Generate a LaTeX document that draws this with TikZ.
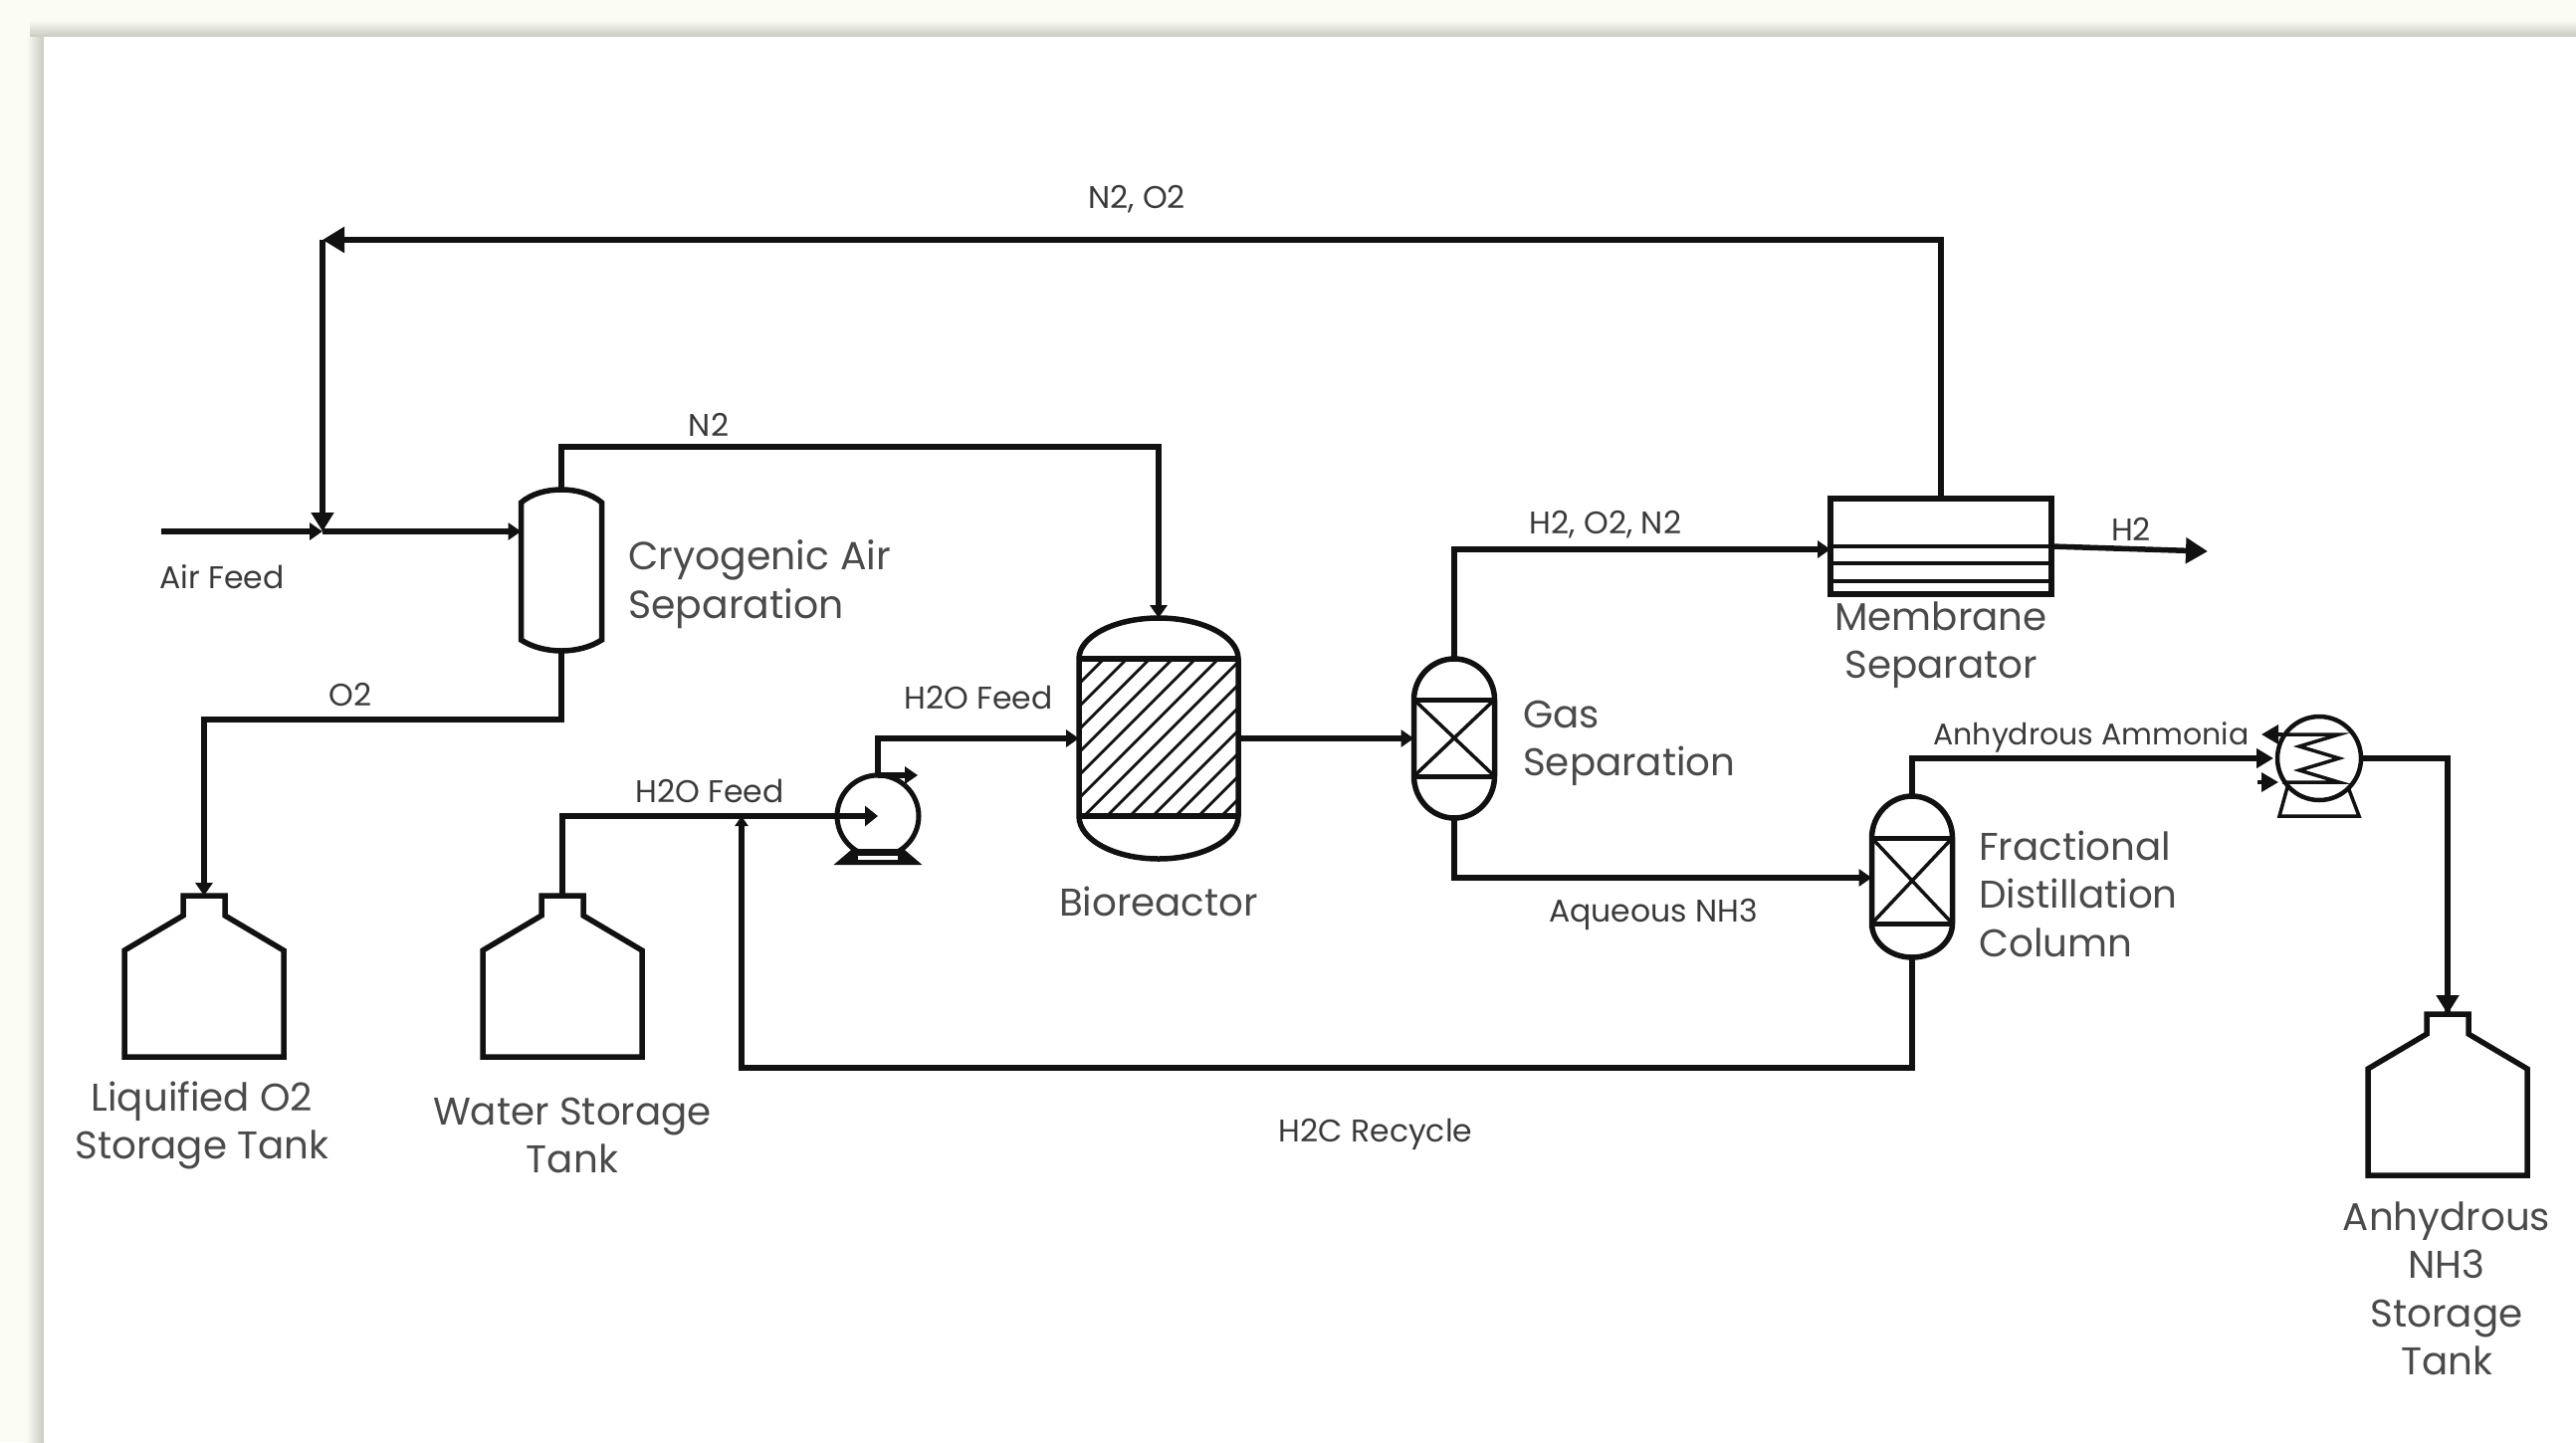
\documentclass[tikz,border=0pt]{standalone}
\usepackage{fontspec}
\setmainfont{Poppins}
\usetikzlibrary{arrows.meta}
\definecolor{pagebg}{HTML}{FBFCF4}
\definecolor{edgeshadow}{HTML}{C9CBC3}
\definecolor{inkline}{HTML}{111111}
\definecolor{biglabel}{HTML}{4A4A4A}
\definecolor{smalllabel}{HTML}{3A3A3A}
\tikzset{
  x=1pt, y=-1pt,
  pipe/.style={draw=inkline, line width=5.5pt, line join=miter},
  shell/.style={draw=inkline, line width=5.5pt, line join=miter},
  inner line/.style={draw=inkline, line width=3.5pt},
  tipS/.style={-{Triangle[length=13pt,width=17pt]}},
  tipE/.style={-{Triangle[length=17pt,width=19pt]}},
  tipT/.style={-{Triangle[length=10pt,width=13pt]}},
  tipM/.style={-{Triangle[length=19pt,width=22pt]}},
  tipL/.style={-{Triangle[length=22pt,width=25pt]}},
  equip/.style={inner sep=0pt, outer sep=0pt, minimum width=#1},
  biglab/.style={font=\fontsize{38.8}{48.5}\selectfont, text=biglabel, inner sep=0pt, align=center},
  leftlab/.style={biglab, align=left, anchor=west},
  smalllab/.style={font=\fontsize{31.5}{36}\selectfont, text=smalllabel, inner sep=0pt},
}
% dome from (-a,base) to (a,base) through (0,apex)
\newcommand{\domepath}[3]{(-#1,#2) .. controls (-#1,{#2+0.55*(#3-#2)}) and ({-0.55*#1},#3) .. (0,#3) .. controls ({0.55*#1},#3) and (#1,{#2+0.55*(#3-#2)}) .. (#1,#2)}
% name, cx, top
\newcommand{\tankat}[3]{%
  \begin{scope}[shift={(#2,#3)}]
    \node[equip=160pt, minimum height=162pt] (#1) at (0,81) {};
    \draw[shell] (-21,0) -- (21,0) -- (21,20) -- (80,55) -- (80,162) -- (-80,162) -- (-80,55) -- (-21,20) -- cycle;
  \end{scope}}
% name, cx, top, dome base top, band low, bottom
\newcommand{\packedcol}[6]{%
  \begin{scope}[shift={(#2,0)}]
    \node[equip=81pt, minimum height={#6-#3}] (#1) at (0,{(#3+#6)/2}) {};
    \draw[shell] \domepath{40.5}{#4}{#3} -- (40.5,#5) .. controls (40.5,{#5+0.55*(#6-#5)}) and (22.3,#6) .. (0,#6) .. controls (-22.3,#6) and (-40.5,{#5+0.55*(#6-#5)}) .. (-40.5,#5) -- cycle;
    \draw[draw=inkline, line width=5pt] (-40.5,#4) -- (40.5,#4) (-40.5,#5) -- (40.5,#5);
    \draw[inner line] (-40.5,#4) -- (40.5,#5) (40.5,#4) -- (-40.5,#5);
  \end{scope}}
\begin{document}
\begin{tikzpicture}
\useasboundingbox (0,0) rectangle (2588,1449);
% page and its shadow
\fill[pagebg] (0,0) rectangle (2588,1449);
\shade[top color=pagebg, bottom color=edgeshadow] (30,20) rectangle (2588,37);
\shade[left color=pagebg, right color=edgeshadow] (26,37) rectangle (44,1449);
\fill[white] (44,37) rectangle (2588,1449);

% ---------- equipment ----------
% cryogenic separator
\begin{scope}[shift={(564,0)}]
  \node[equip=81pt, minimum height=162pt] (cryo) at (0,573) {};
  \draw[shell] (-40.5,505) .. controls (-30,496) and (-15,492) .. (0,492) .. controls (15,492) and (30,496) .. (40.5,505)
     -- (40.5,643) .. controls (30,650) and (15,654) .. (0,654) .. controls (-15,654) and (-30,650) .. (-40.5,643) -- cycle;
\end{scope}
% bioreactor
\begin{scope}[shift={(1164,0)}]
  \node[equip=160pt, minimum height=242pt] (bio) at (0,742) {};
  \begin{scope}
    \clip (-80,662) rectangle (80,820);
    \foreach \i in {0,...,15} {
      \draw[draw=inkline, line width=2.8pt] ({-236+23*\i},820) -- ({-78+23*\i},662);
    }
  \end{scope}
  \draw[shell] \domepath{80}{662}{621} -- (80,820) .. controls (80,844) and (44,863) .. (0,863) .. controls (-44,863) and (-80,844) .. (-80,820) -- cycle;
  \draw[shell] (-80,662) -- (80,662) (-80,820) -- (80,820);
\end{scope}
\packedcol{gas}{1461}{662}{703}{780}{822}
\packedcol{frac}{1921}{800}{842}{928}{962}
% membrane
\node[equip=222pt, minimum height=96pt] (memb) at (1950,549) {};
\draw[shell] (memb.north west) rectangle (memb.south east);
\draw[inner line] (1839,549) -- (2061,549) (1839,566) -- (2061,566) (1839,584) -- (2061,584);
% pump
\node[circle, draw=inkline, line width=5pt, inner sep=0pt, outer sep=0pt, minimum size=82pt] (pump) at (882,820) {};
\draw[draw=inkline, fill=inkline, line width=4pt, line join=miter] (843,867) -- (857,855) -- (907,855) -- (921,867) -- cycle;
\fill[white] (862,859.5) rectangle (902,864);
% exchanger
\node[circle, draw=inkline, line width=4.5pt, inner sep=0pt, outer sep=0pt, minimum size=84pt] (exch) at (2330,762) {};
\draw[draw=inkline, line width=3.5pt, line join=miter] (2298,791) -- (2290,820) -- (2370,820) -- (2359,791);
\draw[draw=inkline, line width=3.5pt, line join=miter] (2293,738) -- (2350,738) -- (2310,750) -- (2350,762) -- (2310,774) -- (2350,786) -- (2293,786);
\draw[inner line, tipE] (2293,738) -- (2272,738);
\draw[inner line, tipE] (2268,786) -- (2289,786);
% tanks
\tankat{tankO}{205}{900}
\tankat{tankW}{565}{900}
\tankat{tankA}{2459}{1019}

% ---------- free ends and bends ----------
\coordinate (airin) at (162,534);
\coordinate (mix) at (324,534);
\coordinate (rectop) at (324,241);
\coordinate (nbend) at (564,449);
\coordinate (obend) at (564,723);
\coordinate (gbend) at (1461,552);
\coordinate (wjoin) at (745,820);
\coordinate (recbend) at (745,1073);
\coordinate (h2out) at (2218,554);

% ---------- connectors ----------
\draw[pipe, tipS] (airin) -- (mix);
\draw[pipe, tipS] (mix) -- (mix -| cryo.west);
\draw[pipe, tipL] (memb.north) |- (rectop);
\draw[pipe, tipM] (rectop) -- (mix);
\draw[pipe, tipS] (cryo.north) -- (nbend) -| (bio.north);
\draw[pipe, tipS] (cryo.south) -- (obend) -| (tankO.north);
\draw[pipe, -{Triangle[length=13pt,width=20pt]}] (tankW.north) |- (pump.center);
\draw[pipe, tipS] (pump.north) |- (bio.west);
\draw[pipe, tipS] (pump.north) -- ++(40,0);
\draw[pipe, tipS] (bio.east) -- (gas.west);
\draw[pipe, tipS] (gas.north) -- (gbend) -- (gbend -| memb.west);
\draw[pipe, tipL] (memb.east) -- (h2out);
\draw[pipe, tipS] (gas.south) |- ([yshift=-1pt]frac.west);
\draw[pipe, -{Triangle[length=17pt,width=19pt]}] (frac.north) |- ([xshift=-4pt]exch.west);
\draw[pipe] (exch.east) -| (tankA.north);
\draw[pipe, tipM] (exch.east -| tankA.north) -- (tankA.north);
\draw[pipe, tipT] (frac.south) |- (recbend) -- (wjoin);

% ---------- labels ----------
\node[smalllab] (lbNO) at (1142,200) {N2, O2};
\node[smalllab] (lbN) at (712,427) {N2};
\node[smalllab] (lbAir) at (223,580) {Air Feed};
\node[smalllab] (lbO) at (352,698) {O2};
\node[smalllab] (lbH2Oa) at (713,795) {H2O Feed};
\node[smalllab] (lbH2Ob) at (983,701) {H2O Feed};
\node[smalllab] (lbHON) at (1613,527) {H2, O2, N2};
\node[smalllab] (lbH) at (2141,532) {H2};
\node[smalllab, font=\fontsize{30}{36}\selectfont] (lbAm) at (2101,741) {Anhydrous Ammonia};
\node[smalllab] (lbAq) at (1661,919) {Aqueous NH3};
\node[smalllab] (lbRec) at (1382,1140) {H2C Recycle};
\node[leftlab, font=\fontsize{39.4}{48.5}\selectfont] (tCryo) at (631,587) {Cryogenic Air\\Separation};
\node[biglab] (tBio) at (1164,906) {Bioreactor};
\node[leftlab] (tGas) at (1530,747) {Gas\\Separation};
\node[biglab] (tMemb) at (1950,648) {Membrane\\Separator};
\node[leftlab] (tFrac) at (1988,898) {Fractional\\Distillation\\Column};
\node[biglab] (tO) at (203,1131) {Liquified O2\\Storage Tank};
\node[biglab] (tW) at (575,1141) {Water Storage\\Tank};
\node[biglab] (tA) at (2458,1295) {Anhydrous\\NH3\\Storage\\Tank};
\end{tikzpicture}
\end{document}
